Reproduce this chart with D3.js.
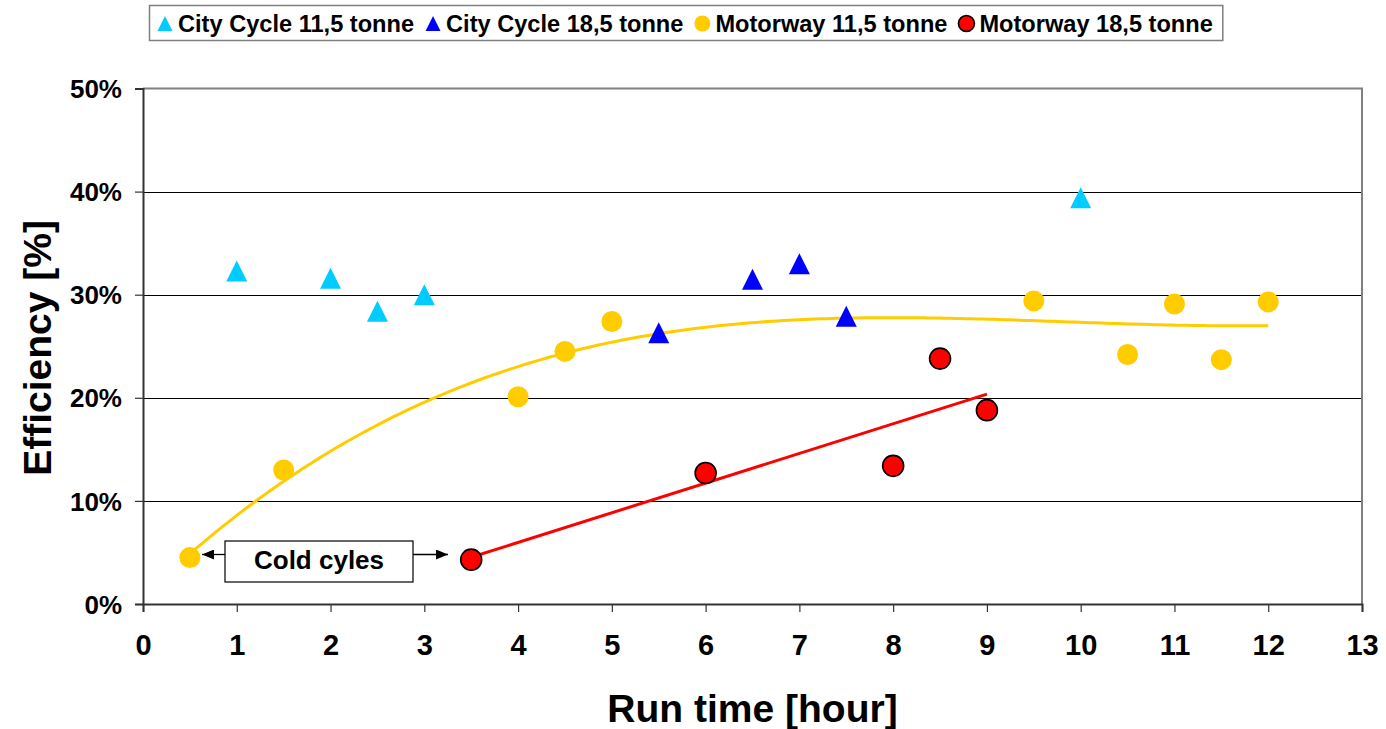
<!DOCTYPE html>
<html>
<head>
<meta charset="utf-8">
<script src="https://cdn.jsdelivr.net/npm/d3@7"></script>
<style>
  html, body { margin: 0; padding: 0; background: #fff; }
  svg { display: block; font-family: "Liberation Sans", Arial, sans-serif; font-weight: bold; }
</style>
</head>
<body>
<svg id="chart" width="1386" height="729"></svg>
<script>
// Run time (hours) and efficiency (%) per test series
const cityCycle115X = [1, 2, 2.5, 3, 10];
const cityCycle115Y = [32.3, 31.6, 28.4, 30.0, 39.4];

const cityCycle185X = [5.5, 6.5, 7, 7.5];
const cityCycle185Y = [26.3, 31.5, 33.0, 27.9];

const motorway115X = [0.5, 1.5, 4, 4.5, 5, 9.5, 10.5, 11, 11.5, 12];
const motorway115Y = [4.5, 13.0, 20.1, 24.5, 27.4, 29.4, 24.2, 29.1, 23.7, 29.3];

const motorway185X = [3.5, 6, 8, 8.5, 9];
const motorway185Y = [4.3, 12.7, 13.4, 23.8, 18.8];

const seriesNames = ["City Cycle 11,5 tonne", "City Cycle 18,5 tonne", "Motorway 11,5 tonne", "Motorway 18,5 tonne"];
const xTickValues = d3.range(0, 14, 1);
const yTickValues = [0, 10, 20, 30, 40, 50];
const xTitle = "Run time [hour]";
const yTitle = "Efficiency [%]";
const noteText = "Cold cyles";

const series = [
  { name: seriesNames[0], xs: cityCycle115X, ys: cityCycle115Y, shape: "triangle", fill: "#00CCFF", stroke: null },
  { name: seriesNames[1], xs: cityCycle185X, ys: cityCycle185Y, shape: "triangle", fill: "#0000FF", stroke: null },
  { name: seriesNames[2], xs: motorway115X, ys: motorway115Y, shape: "circle", fill: "#FFCC00", stroke: null },
  { name: seriesNames[3], xs: motorway185X, ys: motorway185Y, shape: "circle", fill: "#FF0000", stroke: "#000" }
];

// Least-squares polynomial fit (normal equations, Gaussian elimination)
function polyFit(xs, ys, order) {
  const n = order + 1;
  const A = Array.from({ length: n }, () => new Array(n + 1).fill(0));
  for (let i = 0; i < xs.length; i++) {
    for (let r = 0; r < n; r++) {
      for (let c = 0; c < n; c++) A[r][c] += Math.pow(xs[i], r + c);
      A[r][n] += ys[i] * Math.pow(xs[i], r);
    }
  }
  for (let p = 0; p < n; p++) {
    let m = p;
    for (let r = p + 1; r < n; r++) if (Math.abs(A[r][p]) > Math.abs(A[m][p])) m = r;
    [A[p], A[m]] = [A[m], A[p]];
    for (let r = 0; r < n; r++) {
      if (r === p) continue;
      const f = A[r][p] / A[p][p];
      for (let c = p; c <= n; c++) A[r][c] -= f * A[p][c];
    }
  }
  const coef = A.map((row, i) => row[n] / row[i]);
  return x => coef.reduce((s, k, i) => s + k * Math.pow(x, i), 0);
}

const svg = d3.select("#chart");
const plot = { left: 143, right: 1362, top: 88.5, bottom: 604 };

const x = d3.scaleLinear().domain([0, 13]).range([plot.left, plot.right]);
const y = d3.scaleLinear().domain([0, 50]).range([plot.bottom, plot.top]);

// Horizontal gridlines
svg.append("g")
  .selectAll("line")
  .data(yTickValues.filter(v => v > 0 && v < 50))
  .join("line")
  .attr("x1", plot.left).attr("x2", plot.right)
  .attr("y1", d => Math.round(y(d)) + 0.5).attr("y2", d => Math.round(y(d)) + 0.5)
  .attr("stroke", "#000").attr("stroke-width", 1);

// Plot area frame (top and right)
svg.append("path")
  .attr("d", `M${plot.left},${plot.top}H${plot.right}V${plot.bottom}`)
  .attr("fill", "none").attr("stroke", "#808080").attr("stroke-width", 2);

// Axes
const xAxis = svg.append("g")
  .attr("transform", `translate(0,${plot.bottom})`)
  .call(d3.axisBottom(x).tickValues(xTickValues).tickSize(8).tickPadding(22).tickFormat(d3.format("d")));
const yAxis = svg.append("g")
  .attr("transform", `translate(${plot.left},0)`)
  .call(d3.axisLeft(y).tickValues(yTickValues).tickSize(8).tickPadding(13).tickFormat(d => d + "%"));

[xAxis, yAxis].forEach(g => {
  g.select(".domain").attr("stroke", "#333").attr("stroke-width", 2);
  g.selectAll(".tick line").attr("stroke", "#333").attr("stroke-width", 1.2);
  g.selectAll("text").attr("fill", "#000").attr("font-family", "Liberation Sans, Arial, sans-serif").attr("font-weight", "bold");
});
xAxis.selectAll("text").attr("font-size", 29).attr("dy", "0.71em");
yAxis.selectAll("text").attr("font-size", 26).attr("dy", "0.35em");

// Axis titles
svg.append("text")
  .attr("x", (plot.left + plot.right) / 2).attr("y", 722)
  .attr("text-anchor", "middle").attr("font-size", 39).attr("fill", "#000")
  .text(xTitle);
svg.append("text")
  .attr("transform", `translate(51,348) rotate(-90)`)
  .attr("text-anchor", "middle").attr("font-size", 39).attr("fill", "#000")
  .text(yTitle);

// Trend lines
const line = d3.line().x(d => x(d[0])).y(d => y(d[1]));

const cubic = polyFit(motorway115X, motorway115Y, 3);
const xMin115 = d3.min(motorway115X), xMax115 = d3.max(motorway115X);
const cubicPts = d3.range(0, 201).map(i => {
  const t = xMin115 + (xMax115 - xMin115) * i / 200;
  return [t, cubic(t)];
});
svg.append("path")
  .attr("d", line(cubicPts))
  .attr("fill", "none").attr("stroke", "#FFCC00").attr("stroke-width", 3);

const lin = polyFit(motorway185X, motorway185Y, 1);
const xMin185 = d3.min(motorway185X), xMax185 = d3.max(motorway185X);
svg.append("path")
  .attr("d", line([[xMin185, lin(xMin185)], [xMax185, lin(xMax185)]]))
  .attr("fill", "none").attr("stroke", "#FF0000").attr("stroke-width", 3);

// Markers
function triPath(w, h) {
  return `M0,${-h / 2}L${w / 2},${h / 2}L${-w / 2},${h / 2}Z`;
}
function drawMarker(g, s, cx, cy, big) {
  if (s.shape === "triangle") {
    const w = big ? 21 : 15, h = big ? 21 : 15;
    g.append("path")
      .attr("d", triPath(w, h))
      .attr("transform", `translate(${cx},${cy})`)
      .attr("fill", s.fill);
  } else {
    g.append("circle")
      .attr("cx", cx).attr("cy", cy).attr("r", big ? 10.5 : 8)
      .attr("fill", s.fill)
      .attr("stroke", s.stroke || "none")
      .attr("stroke-width", s.stroke ? 1.6 : 0);
  }
}

const markers = svg.append("g");
series.forEach(s => {
  s.xs.forEach((xv, i) => drawMarker(markers, s, x(xv), y(s.ys[i]), true));
});

// Annotation box with arrows
const note = svg.append("g");
const defs = svg.append("defs");
defs.append("marker")
  .attr("id", "arrowHead").attr("viewBox", "0 0 10 10")
  .attr("refX", 10).attr("refY", 5)
  .attr("markerWidth", 12).attr("markerHeight", 10)
  .attr("markerUnits", "userSpaceOnUse")
  .attr("orient", "auto")
  .attr("preserveAspectRatio", "none")
  .append("path").attr("d", "M0,0L10,5L0,10Z").attr("fill", "#000");

const boxL = 225, boxR = 413, boxT = 541, boxB = 582, arrowY = 554.5;
note.append("rect")
  .attr("x", boxL).attr("y", boxT).attr("width", boxR - boxL).attr("height", boxB - boxT)
  .attr("fill", "#fff").attr("stroke", "#000").attr("stroke-width", 1.2);
note.append("text")
  .attr("x", (boxL + boxR) / 2).attr("y", 568.5)
  .attr("text-anchor", "middle").attr("font-size", 26).attr("fill", "#000")
  .text(noteText);
note.append("line")
  .attr("x1", boxL).attr("y1", arrowY).attr("x2", 202).attr("y2", arrowY)
  .attr("stroke", "#000").attr("stroke-width", 1.3).attr("marker-end", "url(#arrowHead)");
note.append("line")
  .attr("x1", boxR).attr("y1", arrowY).attr("x2", 448).attr("y2", arrowY)
  .attr("stroke", "#000").attr("stroke-width", 1.3).attr("marker-end", "url(#arrowHead)");

// Legend
const legend = svg.append("g");
const legendBox = legend.append("rect")
  .attr("x", 149.5).attr("y", 5.5).attr("height", 35)
  .attr("fill", "#fff").attr("stroke", "#808080").attr("stroke-width", 1.5);
let lx = 165;
series.forEach((s, i) => {
  drawMarker(legend, s, lx, 23.5, false);
  const t = legend.append("text")
    .attr("x", lx + 13).attr("y", 31.5)
    .attr("font-size", 23.6).attr("fill", "#000")
    .text(s.name);
  const w = t.node().getComputedTextLength();
  lx = lx + 13 + w + 19;
});
legendBox.attr("width", lx - 19 + 10 - 149.5);
</script>
</body>
</html>
